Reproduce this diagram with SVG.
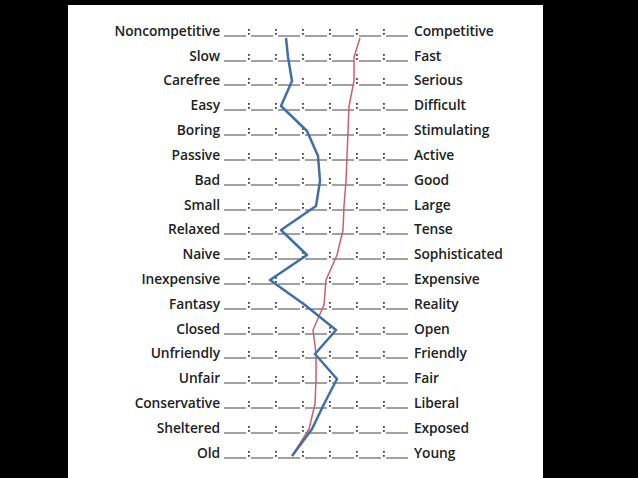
<svg xmlns="http://www.w3.org/2000/svg" width="638" height="478" viewBox="0 0 638 478">
<style>
text{font-family:"Open Sans","Liberation Sans",sans-serif;font-size:13.8px;font-weight:600;fill:#222;letter-spacing:-0.1px}
.l{text-anchor:end}
.s{fill:none;stroke:#444;stroke-width:1.1;stroke-dasharray:22 5}
.c{fill:#444}
</style>
<rect width="638" height="478" fill="#000"/>
<rect x="68" y="5" width="475" height="473" fill="#fff"/>
<defs>
<g id="scale">
<line x1="224" y1="4" x2="410" y2="4" class="s"/>
<g class="c"><rect x="248" y="-3" width="1.8" height="1.8"/><rect x="248" y="1" width="1.8" height="1.8"/>
<rect x="275" y="-3" width="1.8" height="1.8"/><rect x="275" y="1" width="1.8" height="1.8"/>
<rect x="302" y="-3" width="1.8" height="1.8"/><rect x="302" y="1" width="1.8" height="1.8"/>
<rect x="329" y="-3" width="1.8" height="1.8"/><rect x="329" y="1" width="1.8" height="1.8"/>
<rect x="356" y="-3" width="1.8" height="1.8"/><rect x="356" y="1" width="1.8" height="1.8"/>
<rect x="383" y="-3" width="1.8" height="1.8"/><rect x="383" y="1" width="1.8" height="1.8"/></g>
</g>
</defs>
<g id="rows">
<g id="r1"><text class="l" x="220" y="36">Noncompetitive</text><use href="#scale" y="32"/><text x="414" y="36">Competitive</text></g>
<g id="r2"><text class="l" x="220" y="61">Slow</text><use href="#scale" y="57"/><text x="414" y="61">Fast</text></g>
<g id="r3"><text class="l" x="220" y="85">Carefree</text><use href="#scale" y="81"/><text x="414" y="85">Serious</text></g>
<g id="r4"><text class="l" x="220" y="110">Easy</text><use href="#scale" y="106"/><text x="414" y="110">Difficult</text></g>
<g id="r5"><text class="l" x="220" y="135">Boring</text><use href="#scale" y="131"/><text x="414" y="135">Stimulating</text></g>
<g id="r6"><text class="l" x="220" y="160">Passive</text><use href="#scale" y="156"/><text x="414" y="160">Active</text></g>
<g id="r7"><text class="l" x="220" y="185">Bad</text><use href="#scale" y="181"/><text x="414" y="185">Good</text></g>
<g id="r8"><text class="l" x="220" y="210">Small</text><use href="#scale" y="206"/><text x="414" y="210">Large</text></g>
<g id="r9"><text class="l" x="220" y="234">Relaxed</text><use href="#scale" y="230"/><text x="414" y="234">Tense</text></g>
<g id="r10"><text class="l" x="220" y="259">Naive</text><use href="#scale" y="255"/><text x="414" y="259">Sophisticated</text></g>
<g id="r11"><text class="l" x="220" y="284">Inexpensive</text><use href="#scale" y="280"/><text x="414" y="284">Expensive</text></g>
<g id="r12"><text class="l" x="220" y="309">Fantasy</text><use href="#scale" y="305"/><text x="414" y="309">Reality</text></g>
<g id="r13"><text class="l" x="220" y="334">Closed</text><use href="#scale" y="330"/><text x="414" y="334">Open</text></g>
<g id="r14"><text class="l" x="220" y="358">Unfriendly</text><use href="#scale" y="354"/><text x="414" y="358">Friendly</text></g>
<g id="r15"><text class="l" x="220" y="383">Unfair</text><use href="#scale" y="379"/><text x="414" y="383">Fair</text></g>
<g id="r16"><text class="l" x="220" y="408">Conservative</text><use href="#scale" y="404"/><text x="414" y="408">Liberal</text></g>
<g id="r17"><text class="l" x="220" y="433">Sheltered</text><use href="#scale" y="429"/><text x="414" y="433">Exposed</text></g>
<g id="r18"><text class="l" x="220" y="458">Old</text><use href="#scale" y="454"/><text x="414" y="458">Young</text></g>
</g>
<g id="connectors" fill="none" stroke-linejoin="round">
<polyline stroke="#c8626a" stroke-width="1.5" points="360,38 354,57 354,81 349,106 348,131 347,156 346,181 344,206 343,230 337,255 326,280 324,305 313,330 316,354 316,379 315,404 309,429 292,456"/>
<polyline stroke="#3f6fa8" stroke-width="2.5" points="286,38 288,57 292,81 281,106 307,131 318,156 320,181 316,206 281,230 307,255 270,280 305,305 336,330 315,354 337,379 324,404 312,429 292,456"/>
</g>
</svg>
